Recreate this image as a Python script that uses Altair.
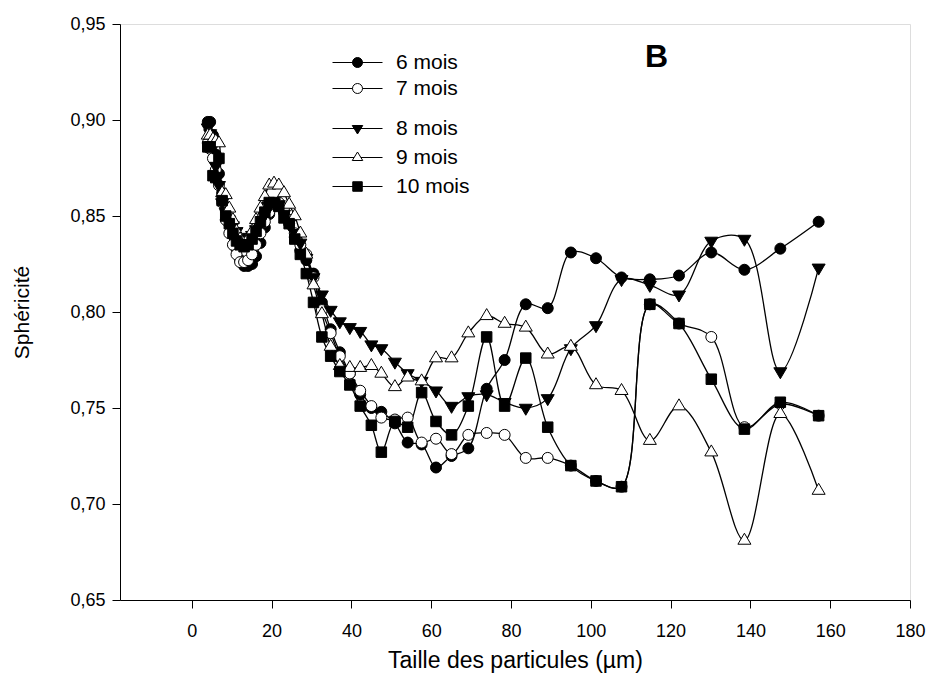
import altair as alt
import pandas as pd

# ---------------- data ----------------
TAILLE = [4.0, 4.6, 5.3, 6.0, 6.8, 7.6, 8.5, 9.4, 10.3, 11.2,
          12.1, 13.1, 14.1, 15.1, 16.1, 17.2, 18.3, 19.4, 20.6, 21.8,
          23.1, 24.4, 25.8, 27.2, 28.7, 30.5, 32.6, 34.8, 37.1, 39.6,
          42.2, 45.0, 47.5, 50.9, 54.1, 57.6, 61.2, 65.1, 69.3, 73.9,
          78.4, 83.7, 89.2, 95.0, 101.3, 107.7, 114.8, 122.1, 130.2, 138.5,
          147.5, 157.1]

M6 = [0.899, 0.899, 0.892, 0.882, 0.872, 0.862, 0.853, 0.846, 0.840, 0.833,
      0.827, 0.824, 0.824, 0.825, 0.829, 0.836, 0.844, 0.851, 0.855, 0.856,
      0.852, 0.846, 0.839, 0.832, 0.827, 0.820, 0.805, 0.791, 0.779, 0.768,
      0.757, 0.750, 0.748, 0.742, 0.732, 0.731, 0.719, 0.725, 0.729, 0.760,
      0.775, 0.804, 0.802, 0.831, 0.828, 0.818, 0.817, 0.819, 0.831, 0.822,
      0.833, 0.847]

M7 = [0.888, 0.885, 0.880, 0.874, 0.866, 0.857, 0.848, 0.841, 0.835, 0.830,
      0.826, 0.826, 0.827, 0.830, 0.835, 0.841, 0.847, 0.852, 0.856, 0.857,
      0.854, 0.848, 0.841, 0.835, 0.830, 0.818, 0.801, 0.789, 0.777, 0.768,
      0.759, 0.751, 0.745, 0.744, 0.745, 0.732, 0.734, 0.726, 0.736, 0.737,
      0.736, 0.724, 0.724, 0.720, 0.712, 0.709, 0.804, 0.794, 0.787, 0.740,
      0.752, 0.746]

M8 = [0.896, 0.893, 0.886, 0.876, 0.866, 0.857, 0.852, 0.848, 0.845, 0.842,
      0.839, 0.838, 0.838, 0.840, 0.843, 0.847, 0.851, 0.855, 0.857, 0.856,
      0.851, 0.846, 0.841, 0.836, 0.828, 0.818, 0.809, 0.801, 0.795, 0.792,
      0.790, 0.783, 0.781, 0.774, 0.768, 0.764, 0.759, 0.751, 0.756, 0.757,
      0.753, 0.750, 0.755, 0.781, 0.793, 0.817, 0.814, 0.809, 0.837, 0.838,
      0.769, 0.823]

M9 = [0.892, 0.892, 0.890, 0.889, 0.888, 0.862, 0.861, 0.854, 0.848, 0.842,
      0.838, 0.836, 0.838, 0.842, 0.848, 0.854, 0.860, 0.866, 0.867, 0.866,
      0.862, 0.856, 0.850, 0.841, 0.830, 0.814, 0.799, 0.782, 0.772, 0.771,
      0.771, 0.772, 0.768, 0.761, 0.766, 0.764, 0.776, 0.776, 0.789, 0.798,
      0.794, 0.792, 0.778, 0.782, 0.762, 0.759, 0.733, 0.751, 0.727, 0.681,
      0.747, 0.707]

M10 = [0.886, 0.886, 0.871, 0.870, 0.880, 0.858, 0.850, 0.846, 0.841, 0.837,
       0.835, 0.834, 0.835, 0.838, 0.842, 0.847, 0.852, 0.857, 0.857, 0.855,
       0.849, 0.846, 0.838, 0.830, 0.820, 0.805, 0.787, 0.777, 0.769, 0.762,
       0.751, 0.741, 0.727, 0.743, 0.740, 0.758, 0.743, 0.736, 0.751, 0.787,
       0.751, 0.776, 0.740, 0.720, 0.712, 0.709, 0.804, 0.794, 0.765, 0.739,
       0.753, 0.746]

SERIES = ["6 mois", "7 mois", "8 mois", "9 mois", "10 mois"]
GROUPE_1 = ["6 mois", "7 mois"]
GROUPE_2 = ["8 mois", "9 mois", "10 mois"]
X_TICKS = [0, 20, 40, 60, 80, 100, 120, 140, 160, 180]
Y_TICKS = [0.65, 0.70, 0.75, 0.80, 0.85, 0.90, 0.95]
PANNEAU = ["B"]

# ---------------- styles ----------------
FONT = "Liberation Sans"
MARKER_PATHS = {
    "6 mois": "M-1.1,0A1.1,1.1,0,1,0,1.1,0A1.1,1.1,0,1,0,-1.1,0Z",
    "7 mois": "M-1.1,0A1.1,1.1,0,1,0,1.1,0A1.1,1.1,0,1,0,-1.1,0Z",
    "8 mois": "M-1.3,-0.75L1.3,-0.75L0,1.45Z",
    "9 mois": "M0,-1.45L1.3,0.75L-1.3,0.75Z",
    "10 mois": "M-1.05,-1.05H1.05V1.05H-1.05Z",
}
LEGEND_PATHS = {
    "6 mois": "M-5,0H5M-1,0A1,1,0,1,0,1,0A1,1,0,1,0,-1,0Z",
    "7 mois": "M-5,0H-1M1,0H5M-1,0A1,1,0,1,0,1,0A1,1,0,1,0,-1,0Z",
    "8 mois": "M-5,0H5M-1.05,-0.6L1.05,-0.6L0,1.1Z",
    "9 mois": "M-5,0H-0.68M0.68,0H5M0,-1.1L1.05,0.6L-1.05,0.6Z",
    "10 mois": "M-5,0H5M-0.95,-0.95H0.95V0.95H-0.95Z",
}
FILLS = {"6 mois": "black", "7 mois": "white", "8 mois": "black",
         "9 mois": "white", "10 mois": "black"}

# ---------------- tidy table ----------------
rows = []
for name, vals in zip(SERIES, [M6, M7, M8, M9, M10]):
    for xv, yv in zip(TAILLE, vals):
        rows.append({"serie": name, "taille": xv, "sph": yv})
df = pd.DataFrame(rows)

xscale = alt.Scale(domain=[-18, 180], nice=False, zero=False)
yscale = alt.Scale(domain=[0.65, 0.95], nice=False, zero=False)

x_axis = alt.Axis(values=X_TICKS, grid=False, tickSize=8, labelPadding=14,
                  labelFontSize=18, titleFontSize=23, titlePadding=9,
                  labelFont=FONT, titleFont=FONT, titleFontWeight="normal",
                  domainColor="black", tickColor="black", labelColor="black",
                  titleColor="black", labelFlush=False)
y_axis = alt.Axis(values=Y_TICKS, grid=False, tickSize=8, labelPadding=7,
                  labelFontSize=18, titleFontSize=21, titlePadding=37,
                  labelFont=FONT, titleFont=FONT, titleFontWeight="normal",
                  domainColor="black", tickColor="black", labelColor="black",
                  titleColor="black", labelFlush=False,
                  labelExpr="replace(format(datum.value, '.2f'), '.', ',')")

base = alt.Chart(df)

lines = base.mark_line(interpolate="catmull-rom", color="black",
                       strokeWidth=1.3).encode(
    x=alt.X("taille:Q", scale=xscale, axis=x_axis,
            title="Taille des particules (µm)"),
    y=alt.Y("sph:Q", scale=yscale, axis=y_axis, title="Sphéricité"),
    detail="serie:N",
)

points = base.mark_point(filled=True, stroke="black", strokeWidth=1,
                         size=100, opacity=1).encode(
    x=alt.X("taille:Q", scale=xscale),
    y=alt.Y("sph:Q", scale=yscale),
    shape=alt.Shape("serie:N", legend=None,
                    scale=alt.Scale(domain=SERIES,
                                    range=[MARKER_PATHS[s] for s in SERIES])),
    fill=alt.Fill("serie:N", legend=None,
                  scale=alt.Scale(domain=SERIES,
                                  range=[FILLS[s] for s in SERIES])),
)


def legend_layer(groupe, field, ly, rowpad):
    leg = alt.Legend(orient="none", legendX=227, legendY=ly, padding=0,
                     title=None, labelFontSize=21, labelFont=FONT,
                     labelColor="black", labelOffset=28, rowPadding=rowpad,
                     symbolSize=100, symbolStrokeWidth=1, symbolOpacity=1)
    d = pd.DataFrame({field: groupe})
    return alt.Chart(d).transform_filter("false").mark_point(
        filled=False, size=100, strokeWidth=1).encode(
        shape=alt.Shape(f"{field}:N", legend=leg,
                        scale=alt.Scale(domain=groupe,
                                        range=[LEGEND_PATHS[s] for s in groupe])),
        fill=alt.Fill(f"{field}:N", legend=leg,
                      scale=alt.Scale(domain=groupe,
                                      range=[FILLS[s] for s in groupe])),
        stroke=alt.Stroke(f"{field}:N", legend=leg,
                          scale=alt.Scale(domain=groupe,
                                          range=["black" for s in groupe])),
    )


leg1 = legend_layer(GROUPE_1, "g1", 28, 4)
leg2 = legend_layer(GROUPE_2, "g2", 94, 7)

panneau = alt.Chart(pd.DataFrame({"lettre": PANNEAU})).mark_text(
    font=FONT, fontSize=32, fontWeight="bold", color="black",
    align="left", baseline="alphabetic").encode(
    x=alt.value(525), y=alt.value(43), text="lettre:N")

chart = alt.layer(lines, points, leg1, leg2, panneau).resolve_scale(
    shape="independent", fill="independent", stroke="independent"
).properties(
    width=790, height=576,
    padding={"left": 112, "top": 16, "right": 17, "bottom": 87},
    autosize=alt.AutoSizeParams(type="none"),
).configure_view(stroke=None).configure(background="white")

chart.save("out.html", embed_options={"renderer": "svg", "actions": False})
